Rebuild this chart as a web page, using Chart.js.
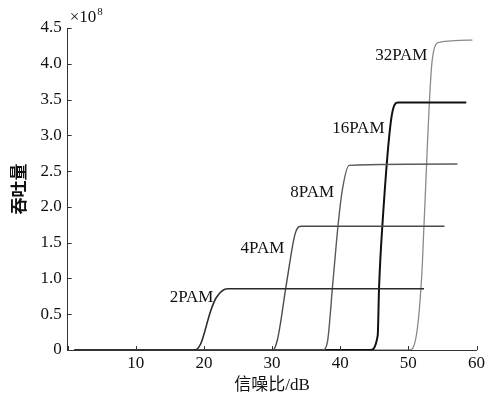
<!DOCTYPE html>
<html>
<head>
<meta charset="utf-8">
<script src="https://cdn.jsdelivr.net/npm/chart.js@4.4.1/dist/chart.umd.min.js"></script>
<style>
  html, body { margin: 0; padding: 0; background: #fff; }
  #wrap { width: 490px; height: 394px; }
</style>
</head>
<body>
<div id="wrap"><canvas id="snrChart"></canvas></div>
<script>
// SNR (dB) and throughput (x10^8)
const snr2 = [1, 18.6, 19.5, 21.0, 21.8, 23.5, 52.3];
const thr2 = [0, 0, 0.08, 0.55, 0.73, 0.855, 0.855];
const snr4 = [1, 30.1, 30.8, 32.1, 33.4, 34.3, 55.3];
const thr4 = [0, 0, 0.15, 0.92, 1.63, 1.73, 1.73];
const snr8 = [1, 37.4, 38.1, 38.9, 39.7, 40.3, 41.3, 57.2];
const thr8 = [0, 0, 0.1, 0.92, 1.76, 2.23, 2.58, 2.6];
const snr16 = [1, 44.4, 45.5, 45.7, 46.2, 47.5, 48.5, 58.5];
const thr16 = [0, 0, 0.2, 0.87, 1.76, 3.24, 3.46, 3.46];
const snr32 = [1, 50.1, 51.2, 52.0, 52.3, 53.5, 54.5, 59.4];
const thr32 = [0, 0, 0.22, 1.1, 1.76, 4.05, 4.30, 4.33];

const names = ["2PAM", "4PAM", "8PAM", "16PAM", "32PAM"];
// label anchor (right edge, middle) in data coordinates
const labelX = [21.4, 31.8, 39.1, 46.5, 52.8];
const labelY = [0.73, 1.42, 2.2, 3.1, 4.12];

const yTicks = [0, 0.5, 1.0, 1.5, 2.0, 2.5, 3.0, 3.5, 4.0, 4.5];
const xTicks = [0, 10, 20, 30, 40, 50, 60];

const serif = "'Liberation Serif', 'Noto Sans CJK SC', serif";

function pts(xs, ys) {
    return xs.map((x, i) => ({ x: x, y: ys[i] }));
}

// curve labels, inward ticks and the x10^8 marker
const annotate = {
    id: "annotate",
    afterDraw(chart) {
        const ctx = chart.ctx;
        const xs = chart.scales.x, ys = chart.scales.y;
        ctx.save();
        ctx.strokeStyle = "#333";
        ctx.lineWidth = 1;
        ctx.beginPath();
        yTicks.forEach(v => {
            const py = Math.round(ys.getPixelForValue(v)) + 0.5;
            ctx.moveTo(xs.left, py);
            ctx.lineTo(xs.left + 4, py);
        });
        xTicks.forEach(v => {
            const px = Math.round(xs.getPixelForValue(v)) + 0.5;
            ctx.moveTo(px, ys.bottom);
            ctx.lineTo(px, ys.bottom - 4);
        });
        ctx.stroke();

        ctx.fillStyle = "#111";
        ctx.font = "17px " + serif;
        ctx.textAlign = "right";
        ctx.textBaseline = "middle";
        names.forEach((n, i) => {
            ctx.fillText(n, xs.getPixelForValue(labelX[i]), ys.getPixelForValue(labelY[i]));
        });

        ctx.textAlign = "left";
        ctx.textBaseline = "alphabetic";
        ctx.font = "17px " + serif;
        const base = "\u00d710";
        ctx.fillText(base, xs.left + 2, ys.top - 6);
        const w = ctx.measureText(base).width;
        ctx.font = "11px " + serif;
        ctx.fillText("8", xs.left + 3 + w, ys.top - 13);
        ctx.restore();
    }
};

const ctx = document.getElementById("snrChart").getContext("2d");

new Chart(ctx, {
    type: "scatter",
    data: {
        datasets: [
            { label: "2PAM", data: pts(snr2, thr2), borderColor: "#2a2a2a", borderWidth: 1.6 },
            { label: "4PAM", data: pts(snr4, thr4), borderColor: "#4a4a4a", borderWidth: 1.4 },
            { label: "8PAM", data: pts(snr8, thr8), borderColor: "#5a5a5a", borderWidth: 1.4 },
            { label: "16PAM", data: pts(snr16, thr16), borderColor: "#111111", borderWidth: 2 },
            { label: "32PAM", data: pts(snr32, thr32), borderColor: "#8a8a8a", borderWidth: 1.3 }
        ].map(d => Object.assign(d, { showLine: true, pointRadius: 0, cubicInterpolationMode: "monotone", fill: false }))
    },
    options: {
        responsive: true,
        maintainAspectRatio: false,
        animation: false,
        layout: { padding: { top: 28, right: 8, bottom: 0, left: 10 } },
        plugins: {
            legend: { display: false },
            tooltip: { enabled: false }
        },
        scales: {
            x: {
                type: "linear",
                min: 0,
                max: 60,
                afterBuildTicks: axis => { axis.ticks = xTicks.map(v => ({ value: v })); },
                grid: { display: false, drawTicks: false },
                border: { display: true, color: "#333", width: 1 },
                ticks: {
                    color: "#111",
                    padding: 5,
                    maxRotation: 0,
                    font: { family: serif, size: 17, lineHeight: 1.0 },
                    callback: v => (v === 0 ? "" : String(v))
                },
                title: {
                    display: true,
                    text: "信噪比/dB",
                    color: "#111",
                    padding: { top: 0, bottom: 0 },
                    font: { family: serif, size: 17, lineHeight: 1.0 }
                }
            },
            y: {
                type: "linear",
                min: 0,
                max: 4.5,
                afterBuildTicks: axis => { axis.ticks = yTicks.map(v => ({ value: v })); },
                grid: { display: false, drawTicks: false },
                border: { display: true, color: "#333", width: 1 },
                ticks: {
                    color: "#111",
                    padding: 6,
                    font: { family: serif, size: 17 },
                    callback: v => (v === 0 ? "0" : v.toFixed(1))
                },
                title: {
                    display: true,
                    text: "吞吐量",
                    color: "#111",
                    padding: { top: 0, bottom: 4 },
                    font: { family: serif, size: 17, weight: "bold" }
                }
            }
        }
    },
    plugins: [annotate]
});
</script>
</body>
</html>
